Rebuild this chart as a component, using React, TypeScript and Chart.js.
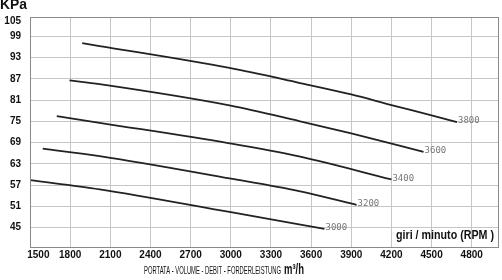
import React, { useEffect, useRef } from 'react';
import { Chart, registerables } from 'chart.js';

Chart.register(...registerables);

// Axis ticks
const xTickValues = [1500, 1800, 2100, 2400, 2700, 3000, 3300, 3600, 3900, 4200, 4500, 4800];
const yTickValues = [45, 51, 57, 63, 69, 75, 81, 87, 93, 99, 105];
const yTickLabels = ['45', '51', '57', '63', '69', '75', '81', '87', '93', '99', '105'];
const X_MIN = 1500;
const X_MAX = 5000;
const Y_MIN = 39.5;
const Y_MAX = 104.5;

// Curves (flow m3/h vs pressure KPa) for each fan speed
const rpmLabels = ['3000', '3200', '3400', '3600', '3800'];
const flow3000 = [1500, 2020, 2990, 3510, 3700];
const press3000 = [58.4, 55.8, 49.4, 45.9, 44.6];
const flow3200 = [1595, 2020, 2990, 3510, 3940];
const press3200 = [67.3, 65.2, 58.9, 55.3, 51.4];
const flow3400 = [1700, 2020, 2990, 3510, 4200];
const press3400 = [76.5, 74.6, 68.8, 65.1, 58.6];
const flow3600 = [1795, 2020, 2990, 3510, 3900, 4440];
const press3600 = [86.6, 85.5, 79.5, 75.1, 71.6, 66.4];
const flow3800 = [1890, 2020, 2990, 3510, 3900, 4200, 4500, 4690];
const press3800 = [97.1, 96.3, 90.1, 85.9, 82.6, 79.6, 76.7, 74.8];

const flows = [flow3000, flow3200, flow3400, flow3600, flow3800];
const pressures = [press3000, press3200, press3400, press3600, press3800];

const xTitle = 'PORTATA - VOLUME - DEBIT - FORDERLEISTUNG';
const xUnit = 'm³/h';
const yUnit = 'KPa';
const rpmTitle = 'giri / minuto (RPM )';

function drawFit(ctx: CanvasRenderingContext2D, text: string, x: number, y: number, width: number, font: string, align: 'left' | 'center' | 'right') {
  ctx.save();
  ctx.font = font;
  const w = ctx.measureText(text).width;
  const sx = width / w;
  ctx.textBaseline = 'middle';
  ctx.textAlign = 'left';
  let x0 = x;
  if (align === 'center') x0 = x - width / 2;
  if (align === 'right') x0 = x - width;
  ctx.translate(x0, y);
  ctx.scale(sx, 1);
  ctx.fillText(text, 0, 0);
  ctx.restore();
}

const decorPlugin = {
  id: 'decor',
  afterDraw(chart: any) {
    const ctx: CanvasRenderingContext2D = chart.ctx;
    const { left, top, right, bottom } = chart.chartArea;
    ctx.save();
    ctx.strokeStyle = '#8a8a8a';
    ctx.lineWidth = 1;
    ctx.strokeRect(Math.round(left) + 0.5, Math.round(top) + 0.5, Math.round(right - left) - 1, Math.round(bottom - top));
    // curve labels
    ctx.fillStyle = '#777';
    ctx.font = '9px "DejaVu Sans Mono", monospace';
    ctx.textBaseline = 'middle';
    ctx.textAlign = 'left';
    chart.data.datasets.forEach((ds: any, i: number) => {
      const meta = chart.getDatasetMeta(i);
      const pt = meta.data[meta.data.length - 1];
      if (pt) ctx.fillText(ds.label, pt.x + 1, pt.y - 1);
    });
    ctx.fillStyle = '#111';
    drawFit(ctx, yUnit, 0, 5.5, 27, 'bold 14px "Liberation Sans", Arial, sans-serif', 'left');
    drawFit(ctx, xTitle, 144, 271.5, 137, '10px "Liberation Sans", Arial, sans-serif', 'left');
    drawFit(ctx, xUnit, 284, 270, 20, 'bold 15px "Liberation Sans", Arial, sans-serif', 'left');
    drawFit(ctx, rpmTitle, 396, 236, 98, 'bold 12px "Liberation Sans", Arial, sans-serif', 'left');
    ctx.restore();
  },
};

export default function App() {
  const ref = useRef<HTMLCanvasElement | null>(null);
  useEffect(() => {
    if (!ref.current) return;
    const tickFont = { family: '"Liberation Sans", Arial, sans-serif', size: 10, weight: 'bold' as const };
    const lastY = yTickValues.length - 1;
    const chart = new Chart(ref.current, {
      type: 'line',
      data: {
        datasets: rpmLabels.map((lab, i) => ({
          label: lab,
          data: flows[i].map((x, j) => ({ x, y: pressures[i][j] })),
          borderColor: '#222',
          borderWidth: 1.8,
          pointRadius: 0,
          fill: false,
          cubicInterpolationMode: 'monotone' as const,
        })),
      },
      options: {
        responsive: false,
        animation: false,
        devicePixelRatio: 1,
        layout: { padding: { top: 14, right: 3.5, left: 0, bottom: 0 } },
        plugins: { legend: { display: false }, tooltip: { enabled: false } },
        scales: {
          x: {
            type: 'linear',
            min: X_MIN,
            max: X_MAX,
            afterBuildTicks: (s: any) => { s.ticks = xTickValues.map((v) => ({ value: v })); },
            afterFit: (s: any) => { s.height = 33; },
            ticks: {
              autoSkip: false,
              maxRotation: 0,
              padding: 2,
              color: '#111',
              font: tickFont,
              callback: (v: any, i: number) => (i === 0 ? '      ' : '') + String(xTickValues[i]),
            },
            grid: { color: '#c6c6c6', drawTicks: false, lineWidth: 1 },
            border: { color: '#777' },
          },
          y: {
            type: 'linear',
            min: Y_MIN,
            max: Y_MAX,
            afterBuildTicks: (s: any) => { s.ticks = yTickValues.map((v) => ({ value: Math.min(v, Y_MAX) })); },
            afterFit: (s: any) => { s.width = 30; },
            ticks: {
              autoSkip: false,
              padding: 9,
              color: '#111',
              font: (c: any) => (c.index === lastY ? { ...tickFont, lineHeight: 0.8 } : tickFont),
              callback: (v: any, i: number) => (i === lastY ? ['', yTickLabels[i]] : yTickLabels[i]),
            },
            grid: { color: '#c6c6c6', drawTicks: false, lineWidth: 1 },
            border: { color: '#777' },
          },
        },
      },
      plugins: [decorPlugin],
    });
    return () => chart.destroy();
  }, []);
  return (
    <div style={{ position: 'absolute', left: 0, top: 0, width: 502, height: 280, background: '#fff' }}>
      <canvas ref={ref} width={502} height={280} />
    </div>
  );
}
